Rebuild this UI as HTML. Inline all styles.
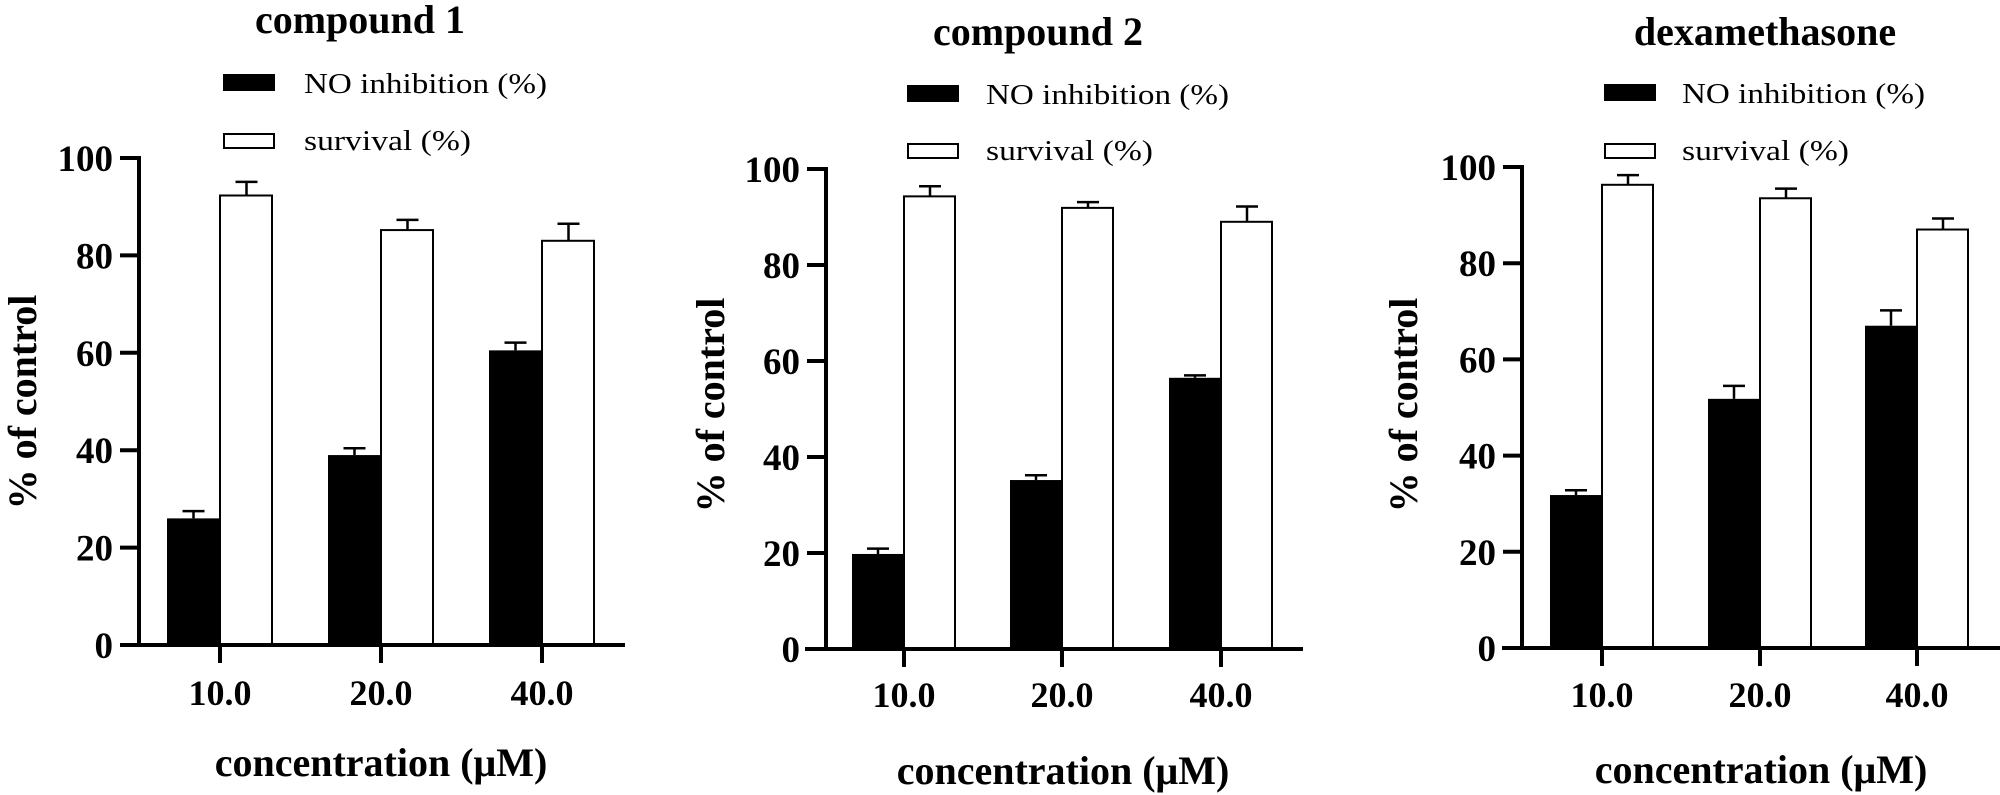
<!DOCTYPE html>
<html><head><meta charset="utf-8">
<style>
html,body{margin:0;padding:0;background:#fff;}
svg{display:block;font-family:"Liberation Serif",serif;}
</style></head>
<body>
<svg id="chart" width="2000" height="795" viewBox="0 0 2000 795"></svg>
<script>
const categories = ["10.0","20.0","40.0"];
const yTicks = [0,20,40,60,80,100];
const titles = ["compound 1","compound 2","dexamethasone"];
const noInhibition1 = [26,39,60.5];
const noInhibitionErr1 = [1.5,1.4,1.6];
const survival1 = [92.3,85.2,83];
const survivalErr1 = [2.8,2.1,3.5];
const noInhibition2 = [19.8,35.2,56.5];
const noInhibitionErr2 = [1.1,1.0,0.5];
const survival2 = [94.3,91.9,89];
const survivalErr2 = [2.1,1.2,3.2];
const noInhibition3 = [31.8,51.8,67];
const noInhibitionErr3 = [1.0,2.7,3.2];
const survival3 = [96.3,93.5,87];
const survivalErr3 = [2.0,2.0,2.3];

const panels = [
 {ax:139,y0:645,y100:158,xs:121,xe:625,ticks:[220,381,542],bw:53,title:[360,33],leg:[223,74,133,304],xl:705,xt:[381,776],yt:[22,402],no:noInhibition1,noE:noInhibitionErr1,sv:survival1,svE:survivalErr1},
 {ax:826,y0:649,y100:169,xs:805,xe:1303,ticks:[904,1062,1221],bw:52,title:[1038,45],leg:[907,85,143,986],xl:707,xt:[1063,784],yt:[710,405],no:noInhibition2,noE:noInhibitionErr2,sv:survival2,svE:survivalErr2},
 {ax:1522,y0:648,y100:167,xs:1502,xe:2000,ticks:[1602,1760,1917],bw:52,title:[1765,45],leg:[1604,84,143,1682],xl:707,xt:[1761,783],yt:[1403,405],no:noInhibition3,noE:noInhibitionErr3,sv:survival3,svE:survivalErr3}
];
const NS="http://www.w3.org/2000/svg";
const svg=document.getElementById('chart');
function mk(tag,attrs,parent,text){const e=document.createElementNS(NS,tag);for(const k in attrs)e.setAttribute(k,attrs[k]);if(text!==undefined)e.textContent=text;parent.appendChild(e);return e;}

panels.forEach((p,pi)=>{
 const g=mk('g',{},svg);
 
 
 const y=v=>p.y0+(p.y100-p.y0)*v/100;
 const t=mk('text',{x:p.title[0],y:p.title[1],'text-anchor':'middle','font-size':40,'font-weight':'bold'},g,titles[pi]);
 
 
 // legend
 const l1=mk('rect',{x:p.leg[0],y:p.leg[1],width:52,height:17,fill:'#000'},g);
 
 
 const lt1=mk('text',{x:p.leg[3],y:p.leg[1]+19,'font-size':29,textLength:243,lengthAdjust:'spacingAndGlyphs'},g,'NO inhibition (%)');
 
 
 const l2=mk('rect',{x:p.leg[0]+1,y:p.leg[2]+1,width:50,height:14,fill:'#fff',stroke:'#000','stroke-width':2},g);
 
 
 const lt2=mk('text',{x:p.leg[3],y:p.leg[2]+17,'font-size':29,textLength:167,lengthAdjust:'spacingAndGlyphs'},g,'survival (%)');
 
 
 // bars
 categories.forEach((c,i)=>{
  const cx=p.ticks[i];
  const bx=cx-p.bw, wx=cx;
  const eb=mk('line',{x1:bx+p.bw/2,x2:bx+p.bw/2,y1:y(p.no[i]),y2:y(p.no[i]+p.noE[i]),stroke:'#000','stroke-width':2.5},g);
  
  
  const ec=mk('line',{x1:bx+p.bw/2-11,x2:bx+p.bw/2+11,y1:y(p.no[i]+p.noE[i]),y2:y(p.no[i]+p.noE[i]),stroke:'#000','stroke-width':2.5},g);
  
  
  const b=mk('rect',{x:bx,y:y(p.no[i]),width:p.bw,height:p.y0-y(p.no[i]),fill:'#000'},g);
  
  
  const es=mk('line',{x1:wx+p.bw/2,x2:wx+p.bw/2,y1:y(p.sv[i]),y2:y(p.sv[i]+p.svE[i]),stroke:'#000','stroke-width':2.5},g);
  
  
  const esc=mk('line',{x1:wx+p.bw/2-11,x2:wx+p.bw/2+11,y1:y(p.sv[i]+p.svE[i]),y2:y(p.sv[i]+p.svE[i]),stroke:'#000','stroke-width':2.5},g);
  
  
  const w=mk('rect',{x:wx,y:y(p.sv[i]),width:p.bw-1,height:p.y0-y(p.sv[i]),fill:'#fff',stroke:'#000','stroke-width':2},g);
  
  
  const tk=mk('line',{x1:cx,x2:cx,y1:p.y0,y2:p.y0+18,stroke:'#000','stroke-width':4},g);
  
  
  const tl=mk('text',{x:cx,y:p.xl,'text-anchor':'middle','font-size':36,'font-weight':'bold'},g,c);
  
  
 });
 // axes
 const ya=mk('line',{x1:p.ax,x2:p.ax,y1:p.y100-2,y2:p.y0+2,stroke:'#000','stroke-width':4},g);
 
 
 const xa=mk('line',{x1:p.xs,x2:p.xe,y1:p.y0,y2:p.y0,stroke:'#000','stroke-width':4},g);
 
 
 yTicks.forEach(v=>{
  const tk=mk('line',{x1:p.ax-19,x2:p.ax,y1:y(v),y2:y(v),stroke:'#000','stroke-width':4},g);
  
  
  const tl=mk('text',{x:p.ax-26,y:y(v)+13,'text-anchor':'end','font-size':37,'font-weight':'bold'},g,String(v));
  
  
 });
 const xt=mk('text',{x:p.xt[0],y:p.xt[1],'text-anchor':'middle','font-size':40,'font-weight':'bold'},g,'concentration (μM)');
 
 
 const yt=mk('text',{x:0,y:0,'text-anchor':'middle','font-size':40,'font-weight':'bold',transform:`translate(${p.yt[0]+14},${p.yt[1]}) rotate(-90)`},g,'% of control');
 
 
});
</script>
</body></html>
